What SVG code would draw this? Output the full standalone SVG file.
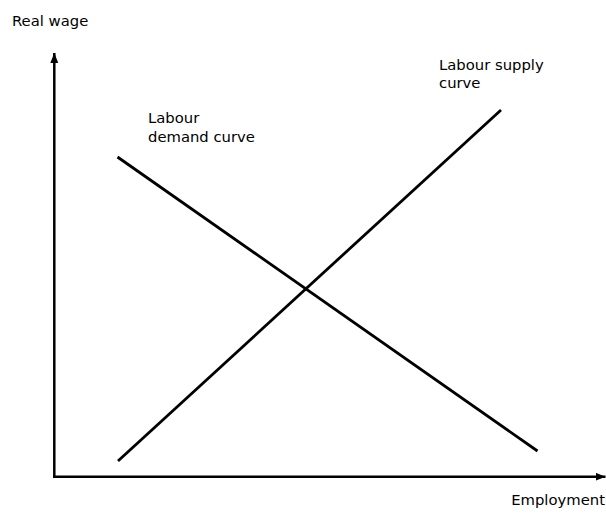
<svg xmlns="http://www.w3.org/2000/svg" width="606" height="515" viewBox="0 0 606 515">
<style>
text { font-family: "DejaVu Sans", Verdana, sans-serif; font-size: 14.8px; fill: #000; }
.axis { stroke: #000; stroke-width: 2.5; fill: none; }
.curve { stroke: #000; stroke-width: 2.8; fill: none; }
</style>
<defs>
<marker id="arr" viewBox="0 0 10 8" refX="10" refY="4" markerWidth="10" markerHeight="8" markerUnits="userSpaceOnUse" orient="auto">
<path d="M0,0 L10,4 L0,8 Z" fill="#000"/>
</marker>
</defs>
<g id="connectors">
<line class="axis" x1="54.3" y1="477" x2="54.3" y2="53" marker-end="url(#arr)"/>
<line class="axis" x1="53" y1="476.7" x2="605.5" y2="476.7" marker-end="url(#arr)"/>
</g>
<g id="demand-curve">
<line class="curve" x1="117.5" y1="157" x2="537.5" y2="451"/>
<text x="148" y="123">Labour</text>
<text x="148" y="141.5">demand curve</text>
</g>
<g id="supply-curve">
<line class="curve" x1="118" y1="461" x2="501" y2="110"/>
<text x="439" y="70">Labour supply</text>
<text x="439" y="88">curve</text>
</g>
<g id="y-label">
<text x="12" y="26">Real wage</text>
</g>
<g id="x-label">
<text x="605" y="505" text-anchor="end">Employment</text>
</g>
</svg>
